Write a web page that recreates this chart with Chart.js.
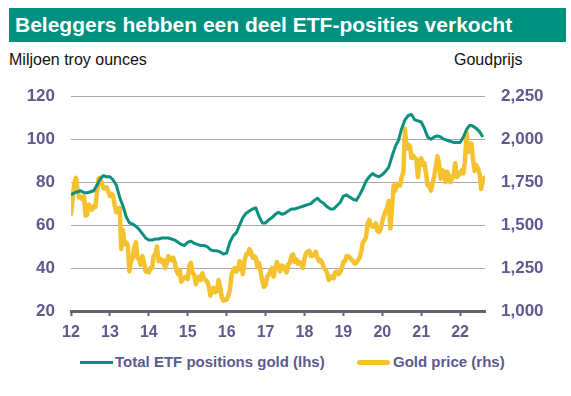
<!DOCTYPE html>
<html>
<head>
<meta charset="utf-8">
<script src="https://cdn.jsdelivr.net/npm/chart.js@4.4.1/dist/chart.umd.min.js"></script>
<style>
  body { margin: 0; width: 571px; height: 396px; background: #fff; position: relative; overflow: hidden;
         font-family: 'Liberation Sans', Arial, sans-serif; }
  #title { position: absolute; left: 9px; top: 8px; width: 557px; height: 34px; box-sizing: border-box;
           padding-left: 6px; background: #00907f; color: #fff; font-weight: bold; font-size: 21px; line-height: 34px; }
  .unit { position: absolute; top: 51px; font-size: 16px; line-height: 18px; color: #111; }
  #chartWrap { position: absolute; left: 0; top: 70px; width: 571px; height: 270px; }
  .legLine { position: absolute; width: 33px; }
  .legText { position: absolute; top: 353px; font-size: 15px; line-height: 18px; font-weight: bold; color: #5c5a8f; }
</style>
</head>
<body>
<div id="title">Beleggers hebben een deel ETF-posities verkocht</div>
<div class="unit" style="left:9px">Miljoen troy ounces</div>
<div class="unit" style="left:454px">Goudprijs</div>
<div id="chartWrap"><canvas id="goldChart" width="571" height="270"></canvas></div>

<div class="legLine" style="left:80px; top:361px; height:3px; background:#0b8f7e;"></div>
<div class="legText" style="left:115px">Total ETF positions gold (lhs)</div>
<div class="legLine" style="left:357px; top:360px; height:5px; border-radius:3px; background:#f4c22e;"></div>
<div class="legText" style="left:393px">Gold price (rhs)</div>

<script>
// x axis: years, ticks shown as two digits
const yearTicks = [2012, 2013, 2014, 2015, 2016, 2017, 2018, 2019, 2020, 2021, 2022];
const startYear = 2012;
const endYear = 2022.64;

// total ETF positions gold, million troy ounces, monthly from Jan 2012
const etfHoldings = [
  74, 75, 75.5, 76, 75, 75, 75.5, 76, 78.5, 81.5, 83, 82.5,
  82.5, 81, 78.5, 73, 69, 64, 61, 60.5, 59.5, 58, 56, 54,
  53, 53, 53.5, 53.5, 54, 54, 54, 53.5, 53, 52, 51, 50.5,
  52, 52.5, 51.5, 51, 50.5, 50.5, 50, 48.5, 48, 48, 47.5, 46.5,
  47, 52, 55, 56.5, 60, 63.5, 65.5, 66.5, 67.5, 68, 64, 61,
  61, 62.5, 63.5, 65, 66, 65, 65.5, 66.5, 67.5, 67.5, 68, 68.5,
  69, 69.5, 70, 71.5, 72.5, 71, 70, 68.5, 67.5, 67.5, 69, 70.5,
  73.5, 74, 73, 72, 71.5, 74, 77, 80.5, 82.5, 84, 83, 82.5,
  83.5, 85, 87, 92, 96.5, 99.5, 105, 109, 111, 111.5, 109, 108.5,
  108, 105, 101, 100, 101, 101.5, 101, 100, 99.5, 99, 98.5, 98.5,
  98.5, 101, 104.5, 106.5, 106, 105, 103.5, 101
];

// gold price in USD/oz, twice a month from Jan 2012
const goldPrice = [
  1565, 1650, 1740, 1775, 1710, 1660, 1665, 1650, 1665, 1555, 1560, 1620, 1600, 1590, 1610, 1605, 1690, 1770, 1775, 1745, 1715, 1715, 1720, 1695,
  1670, 1680, 1670, 1610, 1575, 1595, 1600, 1360, 1470, 1390, 1400, 1385, 1230, 1290, 1310, 1370, 1400, 1310, 1300, 1270, 1320, 1285, 1230, 1230,
  1225, 1250, 1250, 1320, 1330, 1375, 1290, 1305, 1285, 1295, 1250, 1275, 1320, 1305, 1295, 1310, 1285, 1235, 1215, 1240, 1170, 1185, 1195, 1200,
  1185, 1265, 1280, 1225, 1210, 1155, 1185, 1200, 1180, 1220, 1190, 1180, 1170, 1145, 1090, 1115, 1135, 1110, 1115, 1180, 1140, 1080, 1060, 1065,
  1065, 1090, 1120, 1210, 1235, 1250, 1230, 1240, 1290, 1275, 1215, 1290, 1330, 1330, 1360, 1345, 1310, 1320, 1310, 1255, 1280, 1225, 1175, 1140,
  1150, 1200, 1210, 1235, 1250, 1200, 1245, 1285, 1260, 1230, 1265, 1260, 1240, 1225, 1270, 1280, 1320, 1330, 1285, 1300, 1275, 1285, 1275, 1250,
  1305, 1335, 1345, 1350, 1320, 1320, 1330, 1345, 1310, 1290, 1295, 1280, 1250, 1240, 1220, 1180, 1200, 1200, 1190, 1225, 1230, 1215, 1225, 1250,
  1285, 1290, 1320, 1320, 1310, 1300, 1290, 1275, 1280, 1295, 1310, 1345, 1400, 1410, 1430, 1510, 1530, 1500, 1490, 1490, 1510, 1465, 1460, 1475,
  1520, 1555, 1580, 1600, 1640, 1480, 1600, 1730, 1700, 1740, 1730, 1730, 1780, 1810, 2060, 1945, 1970, 1960, 1890, 1905, 1890, 1885, 1780, 1860,
  1890, 1850, 1860, 1800, 1730, 1730, 1700, 1740, 1780, 1840, 1900, 1860, 1770, 1820, 1810, 1750, 1810, 1790, 1750, 1770, 1790, 1860, 1780, 1790,
  1800, 1820, 1800, 1870, 2040, 1925, 1930, 1975, 1880, 1815, 1850, 1830, 1800, 1710, 1765, 1775
];

const tealColor = '#0b8f7e';
const goldColor = '#f4c22e';
const tickColor = '#5c5a8f';
const fontFamily = "'Liberation Sans', Arial, sans-serif";

const etfPoints = etfHoldings.map((v, i) => ({ x: startYear + i / 12, y: v }));
const goldPoints = goldPrice.map((v, i) => ({ x: startYear + i / 24, y: v }));

const goldChart = new Chart(document.getElementById('goldChart'), {
  type: 'line',
  data: {
    datasets: [
      {
        label: 'Total ETF positions gold (lhs)',
        data: etfPoints,
        yAxisID: 'yLeft',
        borderColor: tealColor,
        borderWidth: 3,
        pointRadius: 0,
        tension: 0,
        borderJoinStyle: 'round'
      },
      {
        label: 'Gold price (rhs)',
        data: goldPoints,
        yAxisID: 'yRight',
        borderColor: goldColor,
        borderWidth: 4.5,
        pointRadius: 0,
        tension: 0,
        borderJoinStyle: 'round',
        borderCapStyle: 'round'
      }
    ]
  },
  options: {
    responsive: false,
    animation: false,
    layout: { padding: { top: 25, left: 0, right: 0, bottom: 0 } },
    plugins: {
      legend: { display: false },
      tooltip: { enabled: false }
    },
    scales: {
      x: {
        type: 'linear',
        min: startYear,
        max: endYear,
        afterBuildTicks: (scale) => { scale.ticks = yearTicks.map(v => ({ value: v })); },
        afterFit: (scale) => { scale.height = 29; },
        grid: { drawOnChartArea: false, drawTicks: true, tickLength: 5, tickWidth: 2, color: '#5f666d' },
        border: { display: true, color: '#5f666d', width: 3 },
        ticks: {
          padding: 7,
          maxRotation: 0,
          color: tickColor,
          font: { family: fontFamily, size: 16, weight: 'bold' },
          callback: (value) => String(value - 2000)
        }
      },
      yLeft: {
        position: 'left',
        min: 20,
        max: 120,
        afterFit: (scale) => { scale.width = 71; },
        grid: { color: '#a8a8a8', lineWidth: 1, drawTicks: false },
        border: { display: false },
        ticks: {
          stepSize: 20,
          padding: 16,
          color: tickColor,
          font: { family: fontFamily, size: 17, weight: 'bold' }
        }
      },
      yRight: {
        position: 'right',
        min: 1000,
        max: 2250,
        afterFit: (scale) => { scale.width = 86; },
        grid: { display: false, drawTicks: false },
        border: { display: false },
        ticks: {
          stepSize: 250,
          padding: 16,
          color: tickColor,
          font: { family: fontFamily, size: 17, weight: 'bold' },
          callback: (value) => value.toLocaleString('en-US')
        }
      }
    }
  }
});
</script>
</body>
</html>
